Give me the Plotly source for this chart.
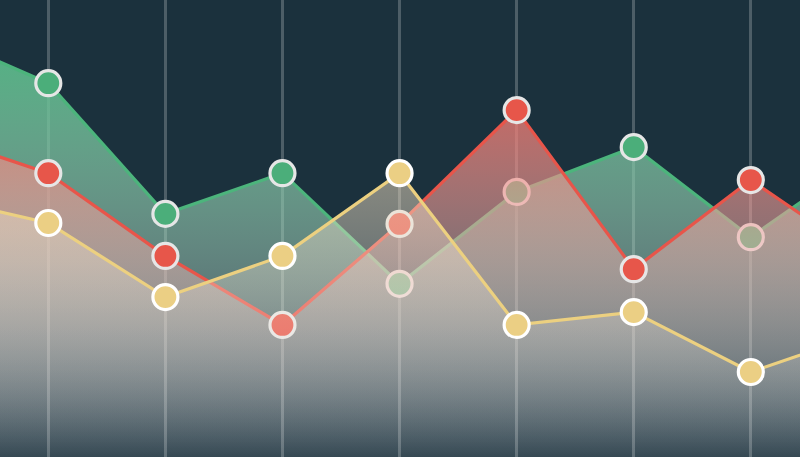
import plotly.graph_objects as go

x_vals = [-1, 0, 1, 2, 3, 4, 5, 6, 7]
green_vals = [93.0, 81.8, 53.2, 62.1, 37.9, 58.0, 67.8, 48.1, 66.1]
red_vals = [70.7, 62.1, 44.0, 28.9, 51.0, 75.9, 41.1, 60.6, 43.1]
yellow_vals = [57.1, 51.2, 35.0, 44.0, 62.1, 28.9, 31.7, 18.6, 27.4]

BG = "#1b313d"
series = [
    ("green", green_vals, "#4bae7a", "#4cb47c", "#e6e6e6", "rgba(76,181,128,1)"),
    ("red", red_vals, "#e7564a", "#e8554a", "#e6e6e6", "rgba(232,86,76,1)"),
    ("yellow", yellow_vals, "#ebcf84", "#ecd080", "#ffffff", "rgba(230,200,155,0.78)"),
]

fig = go.Figure()
for name, vals, mcol, lcol, bcol, fcol in series:
    fig.add_trace(go.Scatter(
        x=x_vals, y=vals, name=name, mode="lines+markers",
        line=dict(color=lcol, width=3.2),
        marker=dict(size=25, color=mcol, line=dict(color=bcol, width=3.2)),
        fill="tozeroy",
        fillgradient=dict(type="vertical",
                          colorscale=[[0, "rgba(255,255,255,0.04)"], [1, fcol]],
                          start=0, stop=95),
        hoverinfo="skip",
    ))

fig.update_layout(
    width=800, height=457,
    margin=dict(l=0, r=0, t=0, b=0),
    paper_bgcolor=BG, plot_bgcolor=BG,
    showlegend=False,
    hovermode=False,
    xaxis=dict(range=[-0.4125, 6.42], tick0=0, dtick=1, showgrid=True,
               gridcolor="rgba(255,255,255,0.22)", gridwidth=3,
               showticklabels=False, zeroline=False, showline=False, ticks=""),
    yaxis=dict(range=[0, 100], showgrid=False, showticklabels=False,
               zeroline=False, showline=False, ticks=""),
)
fig.write_html("out.html", config={"displayModeBar": False, "staticPlot": True},
               post_script="document.body.style.margin='0';document.body.style.background='%s';" % BG)
